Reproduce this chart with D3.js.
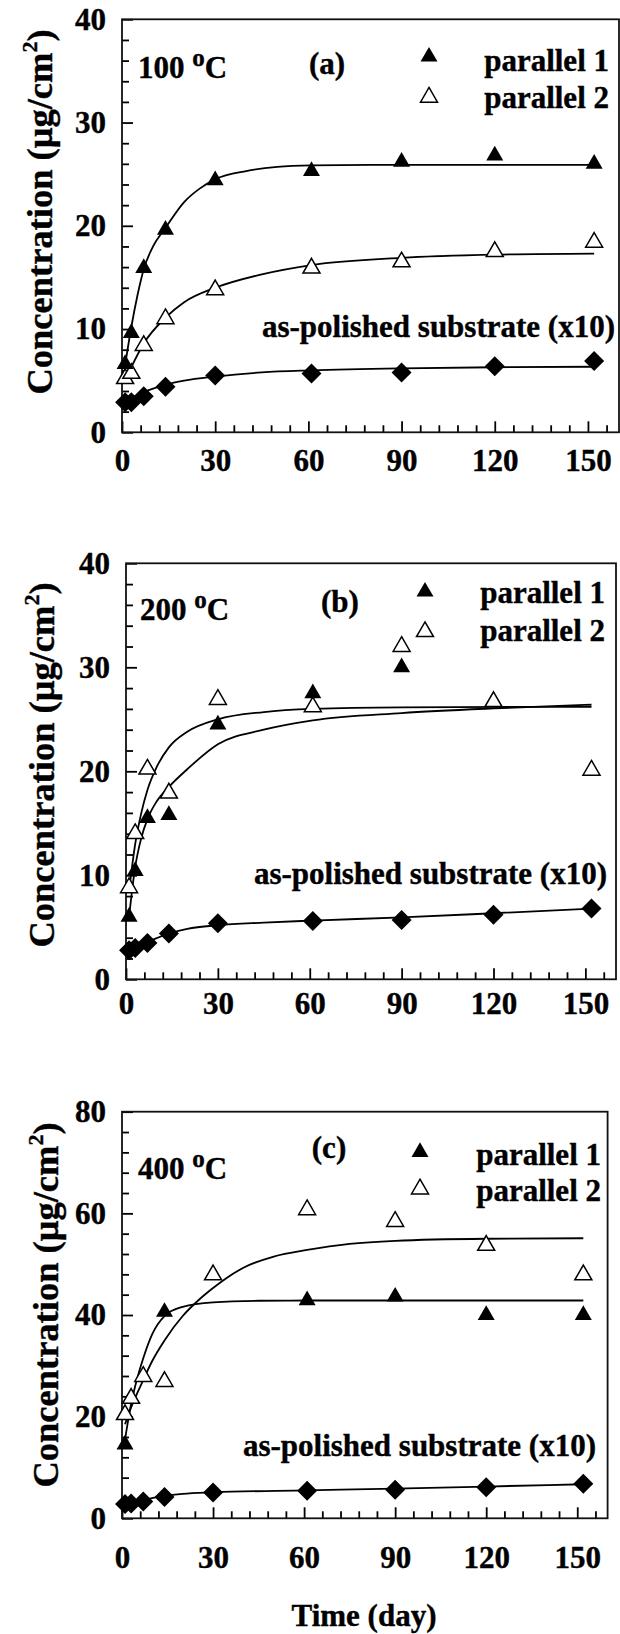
<!DOCTYPE html>
<html>
<head>
<meta charset="utf-8">
<script src="https://cdn.jsdelivr.net/npm/d3@7"></script>
<style>
  body { margin: 0; background: #fff; }
  svg text { font-family: 'Liberation Serif', 'Times New Roman', Times, serif; font-weight: bold; fill: #000;
             stroke: #000; stroke-width: 0.4px; paint-order: stroke; }
</style>
</head>
<body>
<svg id="fig" width="620" height="1634"></svg>
<script>
// ---- sampling days (shared by all panels) ----
const days = [1, 3, 7, 14, 30, 61, 90, 120, 152];
const xTickValues = [0, 30, 60, 90, 120, 150];

// ---- (a) 100 oC ----
const a100Par1 = [6.6, 9.6, 15.9, 19.6, 24.4, 25.3, 26.2, 26.8, 26.0];
const a100Par2 = [5.2, 5.7, 8.4, 11.0, 13.8, 15.9, 16.5, 17.5, 18.4];
const a100Sub  = [2.9, 2.9, 3.5, 4.4, 5.5, 5.7, 5.8, 6.4, 6.9];
const a100Fit1 = [[1,6.5],[3,10.2],[5,13.3],[7,15.8],[10,18.0],[14,19.8],[20,22.3],[25,23.6],[30,24.5],[40,25.3],[50,25.7],[61,25.85],[80,25.9],[120,25.9],[152,25.9]];
const a100Fit2 = [[1,5.0],[3,6.3],[7,8.6],[14,11.1],[20,12.6],[30,14.0],[45,15.3],[61,16.2],[90,16.9],[120,17.2],[152,17.3]];
const a100FitSub = [[1,3.0],[3,3.3],[7,3.9],[14,4.6],[20,5.0],[30,5.4],[45,5.8],[61,6.0],[90,6.2],[120,6.3],[152,6.35]];

// ---- (b) 200 oC ----
const b200Days1 = [1, 3, 7, 14, 30, 61, 90];
const b200Par1 = [6.0, 10.4, 15.5, 15.8, 24.5, 27.5, 30.0];
const b200Par2 = [8.8, 14.0, 20.2, 17.9, 26.9, 26.2, 32.0, 26.7, 20.1];
const b200Sub  = [2.8, 3.0, 3.5, 4.4, 5.4, 5.6, 5.7, 6.2, 6.8];
const b200Fit1 = [[1,6.0],[3,10.8],[5,13.6],[7,15.4],[10,17.1],[14,18.5],[20,20.2],[30,22.6],[45,24.0],[61,24.9],[90,25.6],[120,26.05],[152,26.4]];
const b200Fit2 = [[1,8.5],[3,13.0],[5,16.0],[7,18.2],[10,20.4],[14,22.3],[20,23.8],[30,25.0],[45,25.7],[61,26.0],[90,26.15],[152,26.2]];
const b200FitSub = [[1,2.8],[3,3.1],[7,3.6],[14,4.4],[20,4.85],[30,5.2],[45,5.45],[61,5.65],[90,5.95],[120,6.35],[152,6.8]];

// ---- (c) 400 oC ----
const c400Days1 = [1, 14, 61, 90, 120, 152];
const c400Par1 = [14.5, 40.6, 42.9, 43.6, 40.0, 40.0];
const c400Par2 = [20.4, 23.6, 27.9, 26.9, 47.9, 60.7, 58.4, 53.7, 47.9];
const c400Sub  = [2.8, 2.9, 3.3, 4.2, 5.1, 5.4, 5.6, 6.1, 6.8];
const c400Fit1 = [[1,15.5],[3,22.5],[5,27.5],[7,31.5],[10,36.3],[14,39.8],[20,41.6],[30,42.5],[45,42.8],[61,42.85],[152,42.85]];
const c400Fit2 = [[1,18.5],[3,21.8],[7,27.2],[10,31.0],[14,35.0],[20,39.8],[25,42.8],[30,45.3],[40,49.3],[50,51.5],[61,52.8],[75,54.0],[90,54.6],[120,55.0],[152,55.1]];
const c400FitSub = [[1,2.8],[3,3.1],[7,3.6],[14,4.4],[20,4.8],[30,5.1],[61,5.5],[90,5.85],[120,6.25],[152,6.7]];

// ---- text labels ----
const legendLabels = ['parallel 1', 'parallel 2'];
const substrateLabel = 'as-polished substrate (x10)';
const xTitle = 'Time (day)';

const FS = 31;

const svg = d3.select('#fig');

const panels = [
  { box: {l: 122, r: 619, t: 19.3, b: 432.3}, yMax: 40, yStep: 10, yMinor: 2, xPad: 17,
    yTitle: {x: 52, y: 212}, temp: {x: 138, y: 78, t: '100'}, tag: {x: 327, y: 74, t: '(a)'},
    legend: {mx: 429, my: [56.7, 97.3], tx: 609, ty: [70.5, 107.5]}, sub: {x: 615, y: 337},
    p1Days: days, p1: a100Par1, p2: a100Par2, s: a100Sub, fits: [a100Fit1, a100Fit2, a100FitSub] },
  { box: {l: 126, r: 616, t: 563.3, b: 979.3}, yMax: 40, yStep: 10, yMinor: 2, xPad: 13,
    yTitle: {x: 54, y: 765}, temp: {x: 140, y: 620, t: '200'}, tag: {x: 340, y: 612, t: '(b)'},
    legend: {mx: 425, my: [591.7, 631.7], tx: 605, ty: [603, 641]}, sub: {x: 607, y: 884},
    p1Days: b200Days1, p1: b200Par1, p2: b200Par2, s: b200Sub, fits: [b200Fit1, b200Fit2, b200FitSub] },
  { box: {l: 122, r: 607.6, t: 1111.7, b: 1518.3}, yMax: 80, yStep: 20, yMinor: 4, xPad: 28,
    yTitle: {x: 58, y: 1305}, temp: {x: 138, y: 1179, t: '400'}, tag: {x: 329, y: 1158, t: '(c)'},
    legend: {mx: 420, my: [1152, 1189], tx: 601, ty: [1165, 1201]}, sub: {x: 596, y: 1456},
    p1Days: c400Days1, p1: c400Par1, p2: c400Par2, s: c400Sub, fits: [c400Fit1, c400Fit2, c400FitSub] }
];

const triangle = d3.symbol().type(d3.symbolTriangle).size(125)();
const diamond = d3.symbol().type(d3.symbolSquare).size(200)();

function putText(g, x, y, str, anchor, size) {
  return g.append('text')
    .attr('x', x).attr('y', y)
    .attr('text-anchor', anchor || 'start')
    .style('font-size', (size || FS) + 'px')
    .text(str);
}

panels.forEach(p => {
  const g = svg.append('g');
  const x = d3.scaleLinear().domain([0, 160]).range([p.box.l, p.box.r]);
  const y = d3.scaleLinear().domain([0, p.yMax]).range([p.box.b, p.box.t]);

  // minor ticks (inward)
  const xMinor = d3.range(0, 160, 6).filter(v => v % 30 !== 0);
  const yMinor = d3.range(0, p.yMax, p.yMinor).filter(v => v % p.yStep !== 0);

  g.append('g').attr('transform', `translate(0,${p.box.b})`)
    .call(d3.axisBottom(x).tickValues(xMinor).tickSize(-7).tickFormat(''))
    .call(a => a.select('.domain').remove())
    .selectAll('line').attr('stroke', '#000').attr('stroke-width', 1.8);
  g.append('g').attr('transform', `translate(${p.box.l},0)`)
    .call(d3.axisLeft(y).tickValues(yMinor).tickSize(-7).tickFormat(''))
    .call(a => a.select('.domain').remove())
    .selectAll('line').attr('stroke', '#000').attr('stroke-width', 1.8);

  // major ticks + labels
  const xa = g.append('g').attr('transform', `translate(0,${p.box.b})`)
    .call(d3.axisBottom(x).tickValues(xTickValues).tickSize(-11).tickPadding(p.xPad));
  xa.select('.domain').remove();
  xa.selectAll('line').attr('stroke', '#000').attr('stroke-width', 1.8);
  xa.selectAll('text').attr('fill', '#000').style('font-size', FS + 'px').style('font-family', null);

  const ya = g.append('g').attr('transform', `translate(${p.box.l},0)`)
    .call(d3.axisLeft(y).tickValues(d3.range(0, p.yMax + 1, p.yStep)).tickSize(-11).tickPadding(16));
  ya.select('.domain').remove();
  ya.selectAll('line').attr('stroke', '#000').attr('stroke-width', 1.8);
  ya.selectAll('text').attr('fill', '#000').style('font-size', FS + 'px').style('font-family', null);

  // frame
  g.append('rect')
    .attr('x', p.box.l).attr('y', p.box.t)
    .attr('width', p.box.r - p.box.l).attr('height', p.box.b - p.box.t)
    .attr('fill', 'none').attr('stroke', '#111').attr('stroke-width', 1.8);

  // y title
  const yt = g.append('text')
    .attr('transform', `translate(${p.yTitle.x},${p.yTitle.y}) rotate(-90)`)
    .attr('text-anchor', 'middle')
    .style('font-size', '36.5px');
  yt.append('tspan').text('Concentration (\u03BCg/cm');
  yt.append('tspan').attr('dy', -15).style('font-size', '22px').text('2');
  yt.append('tspan').attr('dy', 15).text(')');

  // fitted curves
  const line = d3.line().x(d => x(d[0])).y(d => y(d[1])).curve(d3.curveMonotoneX);
  p.fits.forEach(f => {
    g.append('path').attr('d', line(f)).attr('fill', 'none')
      .attr('stroke', '#000').attr('stroke-width', 1.8);
  });

  // markers
  g.selectAll('.sub').data(days.map((d, i) => [d, p.s[i]])).join('path')
    .attr('d', diamond)
    .attr('transform', d => `translate(${x(d[0])},${y(d[1])}) rotate(45)`)
    .attr('fill', '#000');
  g.selectAll('.p2').data(days.map((d, i) => [d, p.p2[i]])).join('path')
    .attr('d', triangle)
    .attr('transform', d => `translate(${x(d[0])},${y(d[1])})`)
    .attr('fill', '#fff').attr('stroke', '#000').attr('stroke-width', 1.5);
  g.selectAll('.p1').data(p.p1Days.map((d, i) => [d, p.p1[i]])).join('path')
    .attr('d', triangle)
    .attr('transform', d => `translate(${x(d[0])},${y(d[1])})`)
    .attr('fill', '#000');

  // legend
  g.append('path').attr('d', triangle)
    .attr('transform', `translate(${p.legend.mx},${p.legend.my[0]})`).attr('fill', '#000');
  g.append('path').attr('d', triangle)
    .attr('transform', `translate(${p.legend.mx},${p.legend.my[1]})`)
    .attr('fill', '#fff').attr('stroke', '#000').attr('stroke-width', 1.5);
  putText(g, p.legend.tx, p.legend.ty[0], legendLabels[0], 'end');
  putText(g, p.legend.tx, p.legend.ty[1], legendLabels[1], 'end');

  // temperature and panel tag
  const tt = g.append('text')
    .attr('x', p.temp.x).attr('y', p.temp.y)
    .style('font-size', FS + 'px');
  tt.append('tspan').text(p.temp.t + ' ');
  tt.append('tspan').attr('dy', -12).style('font-size', '25px').text('o');
  tt.append('tspan').attr('dy', 12).text('C');
  putText(g, p.tag.x, p.tag.y, p.tag.t, 'middle');

  // substrate note
  putText(g, p.sub.x, p.sub.y, substrateLabel, 'end');
});

// shared x title
putText(svg, 364, 1626, xTitle, 'middle', 31);
</script>
</body>
</html>
